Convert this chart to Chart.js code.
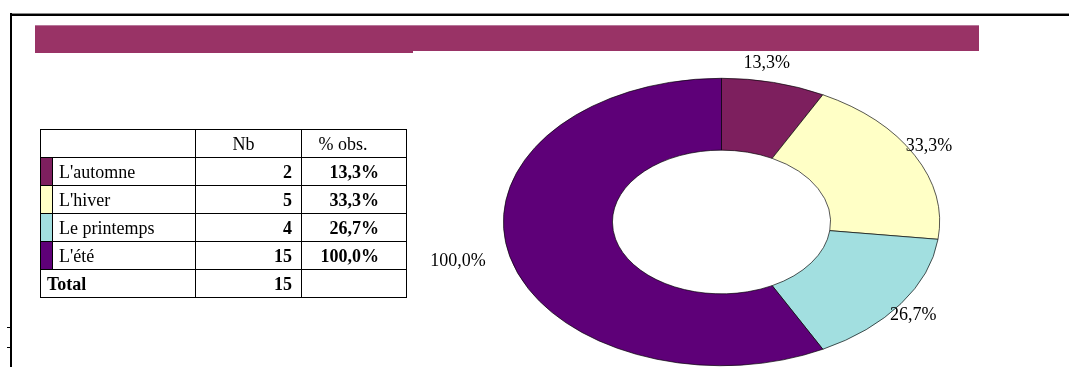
<!DOCTYPE html>
<html>
<head>
<meta charset="utf-8">
<script src="https://cdn.jsdelivr.net/npm/chart.js@4/dist/chart.umd.min.js"></script>
<style>
  html, body { margin: 0; padding: 0; background: #fff; overflow: hidden; }
  body { width: 1069px; height: 367px; position: relative; font-family: "Liberation Serif", "Times New Roman", serif; }
  .abs { position: absolute; }
  #frameTop { left: 10px; top: 13px; width: 1059px; height: 2px; border-top: 1px solid #8a8a8a; background: #000; }
  #frameLeft { left: 10px; top: 13px; width: 2px; height: 360px; background: #000; }
  .tick { left: 7px; width: 4px; height: 1px; background: #000; }
  #banner { left: 35px; top: 25px; width: 944px; height: 25px; background: #993366; border-top: 1px solid #b7769a; }
  #bannerExt { left: 35px; top: 51px; width: 378px; height: 2px; background: #993366; }
  #wrap { left: 400px; top: 0; width: 669px; height: 444px; }
  table { position: absolute; left: 40px; top: 129px; border-collapse: collapse; font-size: 18px; color: #000; }
  td { border: 1px solid #000; padding: 0; height: 27px; line-height: 20px; }
  td.sw { width: 11px; }
  td.lab { width: 136px; padding-left: 6px; }
  td.nb { width: 96px; text-align: right; padding-right: 9px; font-weight: bold; }
  td.pc { width: 77px; text-align: right; padding-right: 27px; font-weight: bold; }
  td.hd { font-weight: normal; text-align: center; }
</style>
</head>
<body>
<div class="abs" id="wrap"><canvas id="donut" width="669" height="444"></canvas></div>
<div class="abs" id="frameTop"></div>
<div class="abs" id="frameLeft"></div>
<div class="abs tick" style="top:327px"></div>
<div class="abs tick" style="top:347px"></div>
<div class="abs" id="banner"></div>
<div class="abs" id="bannerExt"></div>
<table id="tbl"></table>
<script>
// data
const categories = ["L'automne", "L'hiver", "Le printemps", "L'été"];
const counts = [2, 5, 4, 15];
const percents = ["13,3%", "33,3%", "26,7%", "100,0%"];
const total = 15;
const headers = ["Nb", "% obs."];
const colors = ["#7d1f5e", "#ffffc6", "#a2dfe0", "#5e0078"];

// table
const tbl = document.getElementById("tbl");
let html = '<tr style="height:28px"><td colspan="2"></td><td class="hd" style="padding-right:10px">' + headers[0] +
  '</td><td class="hd" style="padding-right:22px">' + headers[1] + '</td></tr>';
categories.forEach((c, i) => {
  html += '<tr style="height:28px"><td class="sw" style="background:' + colors[i] + '"></td><td class="lab">' + c +
    '</td><td class="nb">' + counts[i] + '</td><td class="pc">' + percents[i] + '</td></tr>';
});
html += '<tr style="height:26px"><td colspan="2" style="padding-left:6px;font-weight:bold">Total</td><td class="nb">' +
  total + '</td><td></td></tr>';
tbl.innerHTML = html;

// squash the doughnut into an ellipse, then put the labels outside
const squash = 0.659;
const labelShiftX = -15;
const ellipse = {
  id: "ellipse",
  beforeDatasetsDraw(chart) {
    const arc = chart.getDatasetMeta(0).data[0];
    const ctx = chart.ctx;
    ctx.save();
    ctx.translate(arc.x, arc.y);
    ctx.scale(1, squash);
    ctx.translate(-arc.x, -arc.y);
  },
  afterDatasetsDraw(chart) {
    const ctx = chart.ctx;
    ctx.restore();
    ctx.save();
    ctx.font = "18px 'Liberation Serif', serif";
    ctx.fillStyle = "#000";
    ctx.textAlign = "center";
    ctx.textBaseline = "middle";
    chart.getDatasetMeta(0).data.forEach((a, i) => {
      const mid = (a.startAngle + a.endAngle) / 2;
      const cs = Math.cos(mid), sn = Math.sin(mid);
      const w = ctx.measureText(percents[i]).width;
      const k = 10;
      const x = a.x + labelShiftX + (a.outerRadius + k) * cs + (w / 2) * cs;
      const y = a.y + (a.outerRadius * squash + k) * sn + 10 * sn;
      ctx.fillText(percents[i], x, y);
    });
    ctx.restore();
  }
};

new Chart(document.getElementById("donut"), {
  type: "doughnut",
  data: {
    labels: categories,
    datasets: [{
      data: counts,
      backgroundColor: colors,
      borderColor: "#000",
      borderWidth: 0.8,
      hoverOffset: 0
    }]
  },
  options: {
    responsive: false,
    animation: false,
    cutout: "50%",
    layout: { padding: { left: 103, right: 129, top: 3.5, bottom: 3.5 } },
    plugins: { legend: { display: false }, tooltip: { enabled: false } }
  },
  plugins: [ellipse]
});
</script>
</body>
</html>
